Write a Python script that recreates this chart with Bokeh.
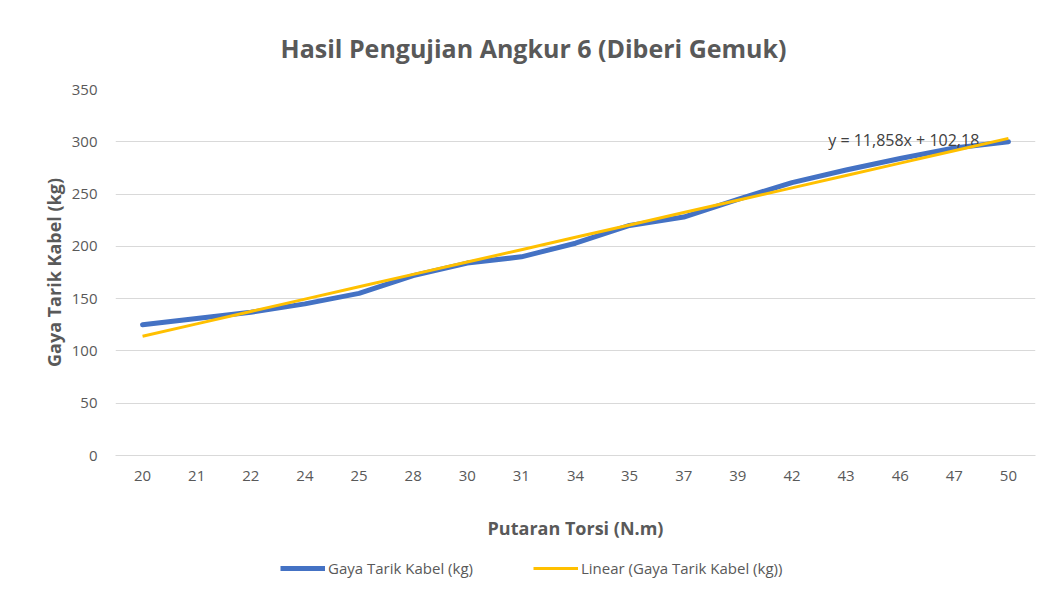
import numpy as np
from bokeh.plotting import figure
from bokeh.layouts import column
from bokeh.models import Label, Legend, LegendItem, Range1d, FactorRange, SingleIntervalTicker, Title
from bokeh.embed import file_html
from bokeh.resources import INLINE

torsi = ["20", "21", "22", "24", "25", "28", "30", "31", "34", "35", "37", "39", "42", "43", "46", "47", "50"]
gaya = [125, 131, 137, 145, 155, 172, 184, 190, 203, 220, 228, 245, 261, 273, 284, 294, 300]
eq_text = "y = 11,858x + 102,18"
title_text = "Hasil Pengujian Angkur 6 (Diberi Gemuk)"
legend_labels = ["Gaya Tarik Kabel (kg)", "Linear (Gaya Tarik Kabel (kg))"]

idx = np.arange(1, len(gaya) + 1)
slope, intercept = np.polyfit(idx, np.array(gaya, dtype=float), 1)
trend = list(slope * idx + intercept)

FONT = "Open Sans"
GRAY = "#595959"
BLUE = "#4472C4"
GOLD = "#FFC000"

p = figure(x_range=FactorRange(factors=torsi, range_padding=0), y_range=Range1d(0, 350),
           output_backend="svg", toolbar_location=None,
           min_border_left=115, min_border_right=14, min_border_top=89, min_border_bottom=97)
p.frame_width = 920
p.frame_height = 366
p.outline_line_color = None
p.background_fill_color = "white"
p.border_fill_color = "white"

r_tr = p.line(torsi, trend, line_color=GOLD, line_width=3)
r_blue = p.line(torsi, gaya, line_color=BLUE, line_width=5, line_join="round", line_cap="round")
r_tr.level = "overlay"

p.yaxis.ticker = SingleIntervalTicker(interval=50)
p.ygrid.grid_line_color = "#d9d9d9"
p.ygrid.grid_line_width = 1
p.xgrid.grid_line_color = None
for ax in (p.xaxis, p.yaxis):
    ax.axis_line_color = None
    ax.major_tick_line_color = None
    ax.minor_tick_line_color = None
    ax.major_tick_out = 0
    ax.major_tick_in = 0
    ax.major_label_text_color = GRAY
    ax.major_label_text_font = FONT
    ax.major_label_text_font_size = "15px"
    ax.axis_label_text_color = GRAY
    ax.axis_label_text_font = FONT
    ax.axis_label_text_font_size = "18px"
    ax.axis_label_text_font_style = "bold"
p.xaxis.axis_line_color = "#d9d9d9"
p.xaxis.major_label_standoff = 15
p.yaxis.major_label_standoff = 14
p.xaxis.axis_label = "Putaran Torsi (N.m)"
p.yaxis.axis_label = "Gaya Tarik Kabel (kg)"
p.xaxis.axis_label_standoff = 32
p.yaxis.axis_label_standoff = 3

p.add_layout(Label(x=13.17, y=302, text=eq_text, text_font=FONT, text_font_size="16px",
                   text_color="#404040", text_baseline="middle"))
p.add_layout(Title(text=title_text, text_font=FONT, text_font_size="25px", text_font_style="bold",
                   text_color=GRAY, align="left", offset=165, standoff=50), "above")

# legend strip under the chart
lg = figure(width=1049, height=30, x_range=Range1d(0, 1), y_range=Range1d(0, 1),
            output_backend="svg", toolbar_location=None,
            min_border_left=0, min_border_right=0, min_border_top=0, min_border_bottom=0)
lg.axis.visible = False
lg.grid.visible = False
lg.outline_line_color = None
lg.background_fill_color = "white"
lg.border_fill_color = "white"
d_blue = lg.line(x=[5, 6], y=[5, 6], line_color=BLUE, line_width=5)
d_gold = lg.line(x=[5, 6], y=[5, 6], line_color=GOLD, line_width=3)
legend = Legend(items=[LegendItem(label=legend_labels[0], renderers=[d_blue]),
                       LegendItem(label=legend_labels[1], renderers=[d_gold])],
                orientation="horizontal", location=(165, 4), border_line_color=None,
                background_fill_alpha=0, glyph_height=20, label_height=20,
                label_text_font=FONT, label_text_font_size="15px", label_text_color=GRAY,
                glyph_width=45, label_standoff=3, spacing=60, margin=0, padding=0)
lg.add_layout(legend, "center")

layout = column(p, lg)
open("out.html", "w").write(file_html(layout, INLINE))
